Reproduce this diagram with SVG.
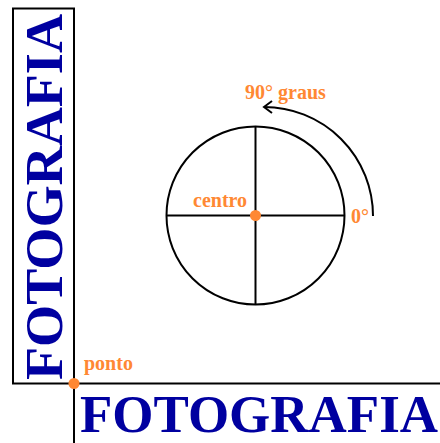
<svg xmlns="http://www.w3.org/2000/svg" width="440" height="443" viewBox="0 0 440 443">
<style>
.ln{stroke:#000;stroke-width:2;fill:none}
.big{font-family:"Liberation Serif",serif;font-weight:bold;font-size:53px;fill:#0000A0}
.lbl{font-family:"Liberation Serif",serif;font-weight:bold;font-size:20px;fill:#FF8833}
.dot{fill:#FF8833}
</style>
<defs>
<marker id="arr" markerWidth="12" markerHeight="14" refX="10" refY="7" orient="auto" markerUnits="userSpaceOnUse">
<path d="M2,1 L10,7 L2,13" fill="none" stroke="#000" stroke-width="2"/>
</marker>
</defs>
<rect width="440" height="443" fill="#fff"/>
<g id="frame">
<rect x="13" y="8.5" width="61" height="375" class="ln"/>
<line x1="74" y1="383.5" x2="440" y2="383.5" class="ln"/>
<line x1="74" y1="383.5" x2="74" y2="443" class="ln"/>
</g>
<g id="texts">
<text class="big" transform="translate(62,380) rotate(-90)" textLength="366" lengthAdjust="spacingAndGlyphs">FOTOGRAFIA</text>
<text class="big" x="80" y="432" textLength="358" lengthAdjust="spacingAndGlyphs">FOTOGRAFIA</text>
</g>
<g id="ponto">
<circle cx="74" cy="383.5" r="5.5" class="dot"/>
<text class="lbl" x="84" y="370">ponto</text>
</g>
<g id="circle">
<circle cx="255.5" cy="215.5" r="89" class="ln"/>
<line x1="166.5" y1="215.5" x2="344.5" y2="215.5" class="ln"/>
<line x1="255.5" y1="126.5" x2="255.5" y2="304.5" class="ln"/>
</g>
<g id="centro">
<circle cx="255.5" cy="215.5" r="5.5" class="dot"/>
<text class="lbl" x="193" y="207">centro</text>
</g>
<g id="connectors">
<path d="M373,216 A109,109 0 0 0 264,107" class="ln" marker-end="url(#arr)"/>
</g>
<g id="labels">
<text class="lbl" x="245" y="99">90° graus</text>
<text class="lbl" x="351" y="223">0°</text>
</g>
</svg>
